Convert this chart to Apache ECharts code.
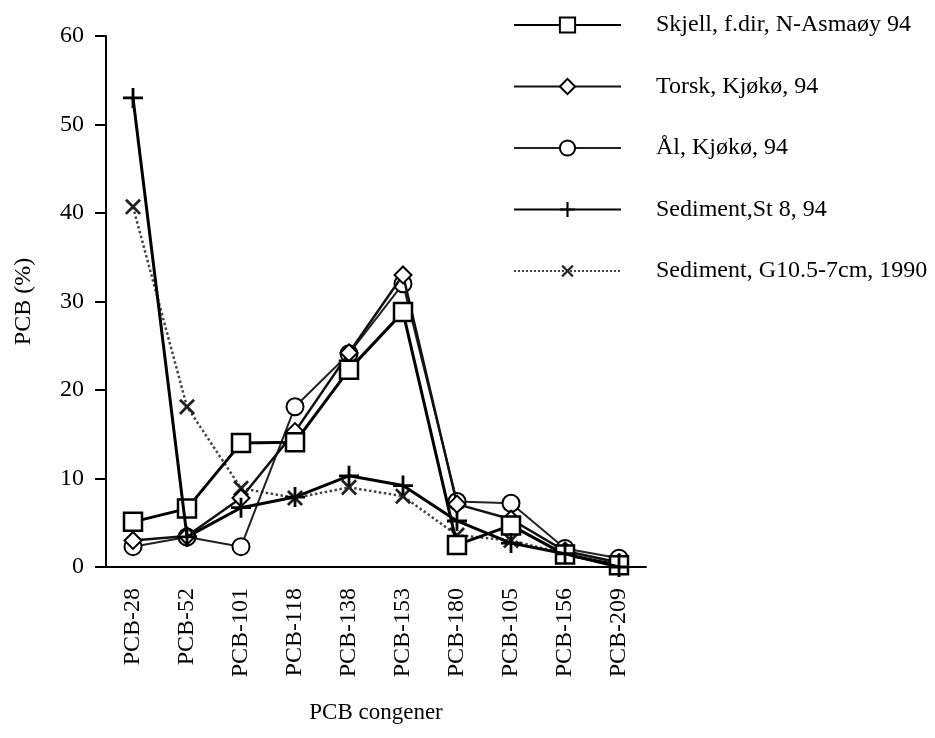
<!DOCTYPE html>
<html>
<head>
<meta charset="utf-8">
<script src="https://cdn.jsdelivr.net/npm/echarts@6/dist/echarts.min.js"></script>
<style>html,body{margin:0;padding:0;background:#fff}#c{width:935px;height:738px}</style>
</head>
<body>
<div id="c"></div>
<script>
const categories = ['PCB-28','PCB-52','PCB-101','PCB-118','PCB-138','PCB-153','PCB-180','PCB-105','PCB-156','PCB-209'];
const seriesNames = ['Skjell, f.dir, N-Asmaøy 94','Torsk, Kjøkø, 94','Ål, Kjøkø, 94','Sediment,St 8, 94','Sediment, G10.5-7cm, 1990'];
const skjell = [5.1, 6.6, 14.0, 14.1, 22.3, 28.8, 2.5, 4.7, 1.4, 0.2];
const torsk  = [3.0, 3.5, 7.8, 15.3, 24.2, 33.0, 7.1, 5.4, 1.8, 0.5];
const aal    = [2.3, 3.4, 2.3, 18.1, 24.1, 32.0, 7.4, 7.2, 2.1, 1.0];
const sedSt8 = [53.0, 3.4, 6.7, 7.9, 10.3, 9.2, 5.2, 2.7, 1.5, 0.0];
const sedG10 = [40.7, 18.1, 8.9, 7.8, 9.0, 8.0, 3.6, 3.0, 1.5, 0.3];
const yTicks = [0, 10, 20, 30, 40, 50, 60];

const FONT = 'Liberation Serif';
const plusPath = 'path://M4.3,0h1.4v4.3h4.3v1.4h-4.3v4.3h-1.4v-4.3h-4.3v-1.4h4.3z';

const chart = echarts.init(document.getElementById('c'));
chart.setOption({
  animation: false,
  backgroundColor: '#fff',
  textStyle: {fontFamily: FONT, color: '#000'},
  grid: {left: 106, top: 36, width: 540, bottom: 171, containLabel: false},
  legend: {
    orient: 'vertical', left: 508, top: 8,
    itemWidth: 107, itemHeight: 19, itemGap: 37.5,
    textStyle: {fontFamily: FONT, fontSize: 24, color: '#000', padding: [0, 0, 0, 30]},
    data: seriesNames
  },
  xAxis: {
    type: 'category', data: categories, boundaryGap: true,
    name: 'PCB congener', nameLocation: 'middle', nameGap: 134,
    nameTextStyle: {fontFamily: FONT, fontSize: 23, color: '#000'},
    axisLine: {lineStyle: {color: '#000', width: 2}},
    axisTick: {alignWithLabel: true, length: 10, lineStyle: {color: '#000', width: 2}},
    axisLabel: {rotate: 90, fontFamily: FONT, fontSize: 24, color: '#000', margin: 21, interval: 0},
    splitLine: {show: false}
  },
  yAxis: {
    type: 'value', min: yTicks[0], max: yTicks[yTicks.length - 1], interval: 10,
    name: 'PCB (%)', nameLocation: 'middle', nameGap: 70,
    nameTextStyle: {fontFamily: FONT, fontSize: 24, color: '#000'},
    axisLine: {show: true, lineStyle: {color: '#000', width: 2}},
    axisTick: {show: true, length: 11, lineStyle: {color: '#000', width: 2}},
    axisLabel: {fontFamily: FONT, fontSize: 24, color: '#000', margin: 22},
    splitLine: {show: false}
  },
  series: [
    {name: seriesNames[0], type: 'line', data: skjell, symbol: 'rect', symbolSize: 18,
     lineStyle: {color: '#000', width: 3}, itemStyle: {color: '#fff', borderColor: '#000', borderWidth: 2.5}, z: 5},
    {name: seriesNames[1], type: 'line', data: torsk, symbol: 'diamond', symbolSize: 17,
     lineStyle: {color: '#111', width: 2.5}, itemStyle: {color: '#fff', borderColor: '#000', borderWidth: 2}, z: 4},
    {name: seriesNames[2], type: 'line', data: aal, symbol: 'circle', symbolSize: 17,
     lineStyle: {color: '#222', width: 2}, itemStyle: {color: '#fff', borderColor: '#000', borderWidth: 2}, z: 3},
    {name: seriesNames[3], type: 'line', data: sedSt8, symbol: plusPath, symbolSize: 20,
     lineStyle: {color: '#000', width: 3}, itemStyle: {color: '#000'}, z: 6},
    {name: seriesNames[4], type: 'line', data: sedG10, symbol: plusPath, symbolSize: 20, symbolRotate: 45,
     lineStyle: {color: '#444', width: 2.5, type: 'dotted'}, itemStyle: {color: '#222'}, z: 2}
  ]
});
</script>
</body>
</html>
